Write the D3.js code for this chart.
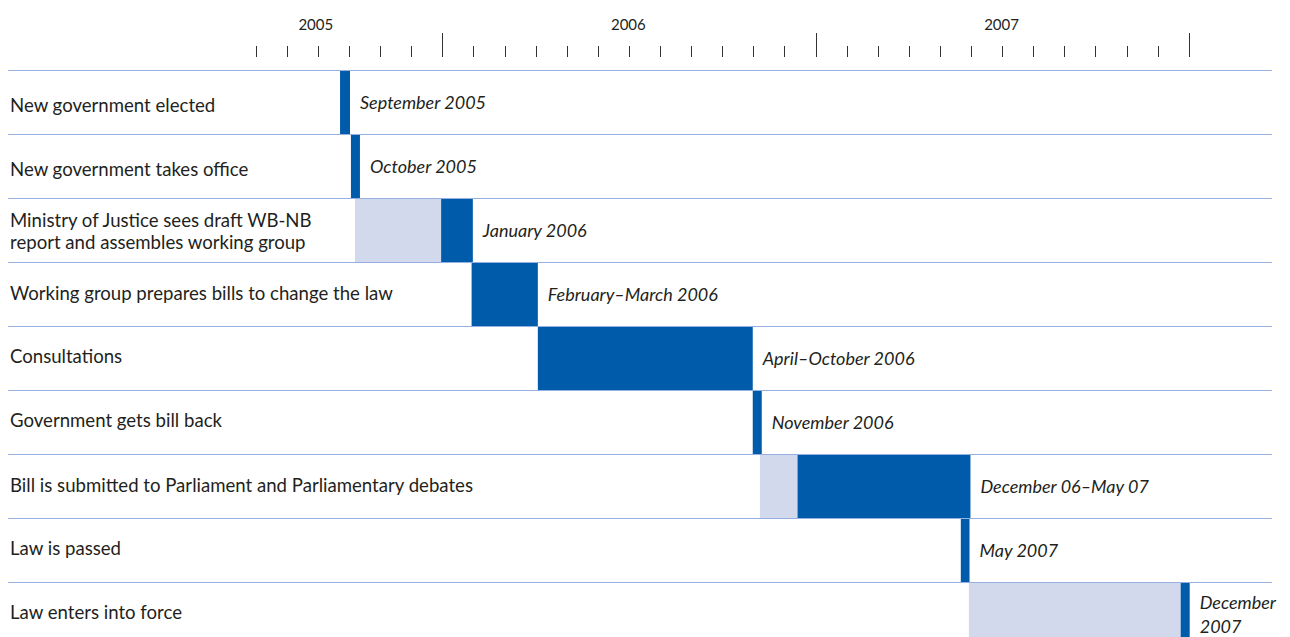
<!DOCTYPE html>
<html>
<head>
<meta charset="utf-8">
<script src="https://cdn.jsdelivr.net/npm/d3@7"></script>
<style>
  html, body { margin: 0; padding: 0; background: #ffffff; }
  svg { display: block; }
  text { font-family: "Lato", "Open Sans", sans-serif; fill: #231f20; }
</style>
</head>
<body>
<svg id="chart" width="1290" height="637"></svg>
<script>
// ---- Data (months counted from January 2005 = 0) ----
const tasks = [
  "New government elected",
  "New government takes office",
  "Ministry of Justice sees draft WB-NB\nreport and assembles working group",
  "Working group prepares bills to change the law",
  "Consultations",
  "Government gets bill back",
  "Bill is submitted to Parliament and Parliamentary debates",
  "Law is passed",
  "Law enters into force"
];
const prepStart = [null, null, 9.16, null, null, null, 22.18, null, 28.9];
const startMonth = [8.68, 9.03, 11.93, 12.91, 15.04, 21.95, 23.39, 28.64, 35.71];
const endMonth   = [9.0, 9.32, 12.95, 15.04, 21.95, 22.24, 28.95, 28.92, 36.0];
const dateLabels = [
  "September 2005",
  "October 2005",
  "January 2006",
  "February\u2013March 2006",
  "April\u2013October 2006",
  "November 2006",
  "December 06\u2013May 07",
  "May 2007",
  "December 2007"
];
const tickMonths = d3.range(6, 37);
const majorTicks = [12, 24, 36];
const yearLabels = ["2005", "2006", "2007"];
const yearLabelMonths = [7.9, 17.95, 29.95];

// ---- Layout ----
const svg = d3.select("#chart");
const x = d3.scaleLinear().domain([0, 36]).range([70.1, 1189.7]);
const rowTop = 70, rowH = 64;
const y = d3.scaleBand().domain(d3.range(tasks.length)).range([rowTop, rowTop + rowH * tasks.length]).padding(0);
const lineColor = "#97b0e2";
const dark = "#005bab";
const light = "#d3d9ec";
const labelDy = [10, 10, 0, 6, 5, 5, 6, 5, 5];

// ---- Ticks (top axis) ----
const axis = d3.axisTop(x)
  .tickValues(tickMonths)
  .tickSize(0)
  .tickFormat("")
  .offset(0);
const axisG = svg.append("g").attr("transform", "translate(0,57)").call(axis);
axisG.select(".domain").remove();
axisG.selectAll(".tick")
  .attr("transform", d => `translate(${Math.round(x(d)) - 0.5},0)`);
axisG.selectAll(".tick line")
  .attr("stroke", "#333")
  .attr("stroke-width", 1)
  .attr("y2", d => majorTicks.includes(d) ? -24 : -11);

svg.append("g").selectAll("text")
  .data(yearLabels)
  .join("text")
  .attr("x", (d, i) => x(yearLabelMonths[i]))
  .attr("y", 30)
  .attr("text-anchor", "middle")
  .attr("font-size", 15)
  .text(d => d);

// ---- Bars ----
const bars = svg.append("g");
tasks.forEach((t, i) => {
  const y0 = y(i) + 1;
  const h = rowH - 1;
  if (prepStart[i] !== null) {
    bars.append("rect")
      .attr("x", x(prepStart[i]))
      .attr("y", y0)
      .attr("width", x(startMonth[i]) - x(prepStart[i]))
      .attr("height", h)
      .attr("fill", light);
  }
  bars.append("rect")
    .attr("x", x(startMonth[i]))
    .attr("y", y0)
    .attr("width", x(endMonth[i]) - x(startMonth[i]))
    .attr("height", h)
    .attr("fill", dark);
});

// ---- Grid lines ----
svg.append("g").selectAll("line")
  .data(d3.range(tasks.length))
  .join("line")
  .attr("x1", 8).attr("x2", 1272)
  .attr("y1", d => y(d) + 0.5).attr("y2", d => y(d) + 0.5)
  .attr("stroke", lineColor)
  .attr("stroke-width", 1.2);

// ---- Row labels ----
const rowLabels = svg.append("g");
tasks.forEach((t, i) => {
  const lines = t.split("\n");
  const cy = y(i) + rowH / 2;
  const txt = rowLabels.append("text")
    .attr("font-size", 18.6)
    .attr("x", 10);
  if (lines.length === 1) {
    txt.attr("y", cy + labelDy[i]).text(lines[0]);
  } else {
    txt.append("tspan").attr("x", 10).attr("y", cy - 3).text(lines[0]);
    txt.append("tspan").attr("x", 10).attr("y", cy + 19).text(lines[1]);
  }
});

// ---- Date labels ----
const dateG = svg.append("g");
dateLabels.forEach((d, i) => {
  const cy = y(i) + rowH / 2;
  const lx = x(endMonth[i]) + 10;
  const t = dateG.append("text")
    .attr("font-size", 18)
    .attr("font-style", "italic")
    .attr("x", lx)
    .attr("y", cy + 7)
    .text(d);
  if (lx + t.node().getComputedTextLength() > 1285) {
    const words = d.split(" ");
    t.text(null);
    t.attr("y", null);
    t.append("tspan").attr("x", lx).attr("y", cy - 5).text(words.slice(0, -1).join(" "));
    t.append("tspan").attr("x", lx).attr("y", cy + 19).text(words[words.length - 1]);
  }
});
</script>
</body>
</html>
